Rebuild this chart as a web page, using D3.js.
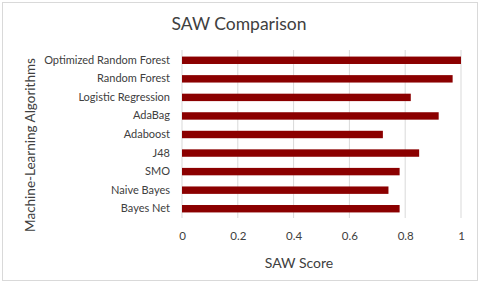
<!DOCTYPE html>
<html lang="en">
<head>
  <meta charset="UTF-8">
  <title>SAW Comparison</title>
  <script src="https://d3js.org/d3.v7.min.js"></script>
  <style>
    body { margin: 0; background: #fff; }
    text { font-family: Lato, "Open Sans", sans-serif; fill: #404040; }
  </style>
</head>
<body>
<div id="chart"></div>
<script>
// data (top to bottom)
var algorithms = ["Optimized Random Forest", "Random Forest", "Logistic Regression", "AdaBag",
  "Adaboost", "J48", "SMO", "Naive Bayes", "Bayes Net"];
var sawScores = [1.0, 0.97, 0.82, 0.92, 0.72, 0.85, 0.78, 0.74, 0.78];
var xTicks = [0, 0.2, 0.4, 0.6, 0.8, 1];

var width = 480, height = 283;
var margin = {top: 51, right: 19, bottom: 65, left: 182};

var svg = d3.select("#chart")
  .append("svg")
  .attr("width", width)
  .attr("height", height);

// outer frame
svg.append("rect")
  .attr("x", 2.5).attr("y", 2.5)
  .attr("width", width - 5).attr("height", height - 5)
  .attr("fill", "#fff")
  .attr("stroke", "#d9d9d9");

var x = d3.scaleLinear()
  .domain([0, 1])
  .range([margin.left, width - margin.right]);

var y = d3.scaleBand()
  .domain(algorithms)
  .range([margin.top, height - margin.bottom])
  .paddingInner(0.6)
  .paddingOuter(0.3);

// gridlines
svg.append("g")
  .selectAll("line")
  .data(xTicks)
  .enter().append("line")
  .attr("x1", function(d) { return x(d); })
  .attr("x2", function(d) { return x(d); })
  .attr("y1", margin.top - 1)
  .attr("y2", height - margin.bottom)
  .attr("stroke", "#d9d9d9")
  .attr("stroke-width", 1);

// bars
svg.append("g")
  .selectAll("rect")
  .data(algorithms)
  .enter().append("rect")
  .attr("x", x(0))
  .attr("y", function(d) { return y(d); })
  .attr("width", function(d, i) { return x(sawScores[i]) - x(0); })
  .attr("height", y.bandwidth())
  .attr("fill", "#8b0000");

// x axis (labels only)
var xAxis = svg.append("g")
  .attr("transform", "translate(0," + (height - margin.bottom) + ")")
  .call(d3.axisBottom(x).tickValues(xTicks).tickSize(0).tickPadding(14)
    .tickFormat(function(d) { return d3.format("~g")(d); }));
xAxis.select(".domain").remove();
xAxis.selectAll("text")
  .style("font-family", "Lato, 'Open Sans', sans-serif")
  .style("font-size", "11.5px")
  .attr("fill", "#595959");

// y axis (labels only)
var yAxis = svg.append("g")
  .attr("transform", "translate(" + margin.left + ",0)")
  .call(d3.axisLeft(y).tickSize(0).tickPadding(12));
yAxis.select(".domain").remove();
yAxis.selectAll("text")
  .style("font-family", "Lato, 'Open Sans', sans-serif")
  .style("font-size", "11px")
  .attr("fill", "#595959");

// title
svg.append("text")
  .attr("x", 239)
  .attr("y", 30)
  .attr("text-anchor", "middle")
  .style("font-size", "17.5px")
  .text("SAW Comparison");

// axis titles
svg.append("text")
  .attr("x", 299)
  .attr("y", 268)
  .attr("text-anchor", "middle")
  .style("font-size", "14px")
  .text("SAW Score");

svg.append("text")
  .attr("transform", "translate(35,145) rotate(-90)")
  .attr("text-anchor", "middle")
  .style("font-size", "13.5px")
  .text("Machine-Learning Algorithms");
</script>
</body>
</html>
